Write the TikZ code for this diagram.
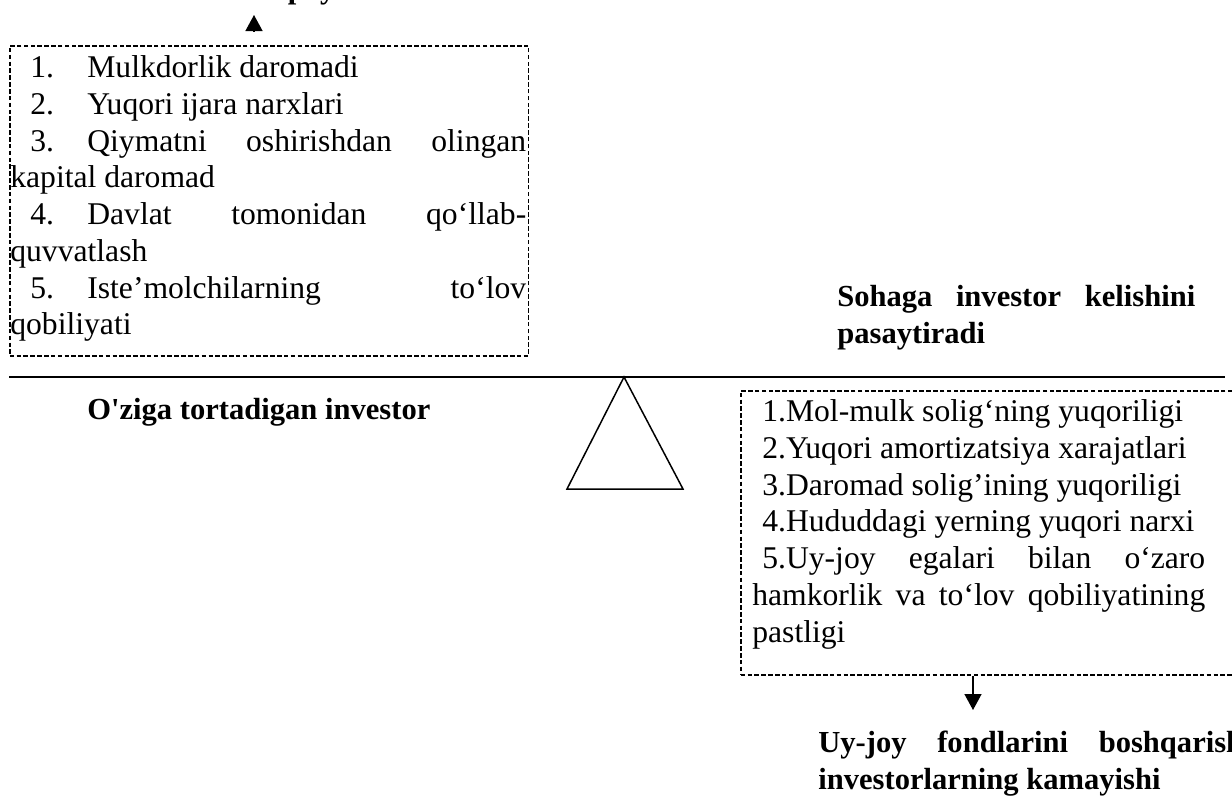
\documentclass[tikz,border=0pt]{standalone}
\usepackage{fontspec}
\setmainfont{Liberation Serif}[Ligatures=TeXOff]
\usetikzlibrary{arrows.meta}
\setlength{\parindent}{0pt}
\hyphenpenalty=10000
\newcommand{\litem}[1]{\hspace*{0.4cm}\makebox[1.14cm][l]{#1}}
\begin{document}
\begin{tikzpicture}[x=0.02cm,y=-0.02cm,
  dashbox/.style={draw,dash pattern=on 2.6pt off 1.3pt,line width=0.9pt,inner sep=0pt,anchor=north west},
  listtext/.style={inner sep=0pt,anchor=north west,align=justify,font=\fontsize{18}{20.9}\selectfont},
  heading/.style={inner sep=0pt,align=justify,font=\fontsize{17.4}{20.9}\selectfont\bfseries},
  arr/.style={-{Triangle[length=0.32cm,width=0.34cm]},line width=0.8pt}]
\useasboundingbox (0,0) rectangle (1232,796);
% left side
\node[heading,anchor=base west] (topnote) at (245,-2) {ko‘paytiradi};
\node[dashbox,minimum width=10.38cm,minimum height=6.2cm] (lbox) at (9,45) {};
\node[listtext,text width=10.32cm] (llist) at (10,55.5) {%
\litem{1.}Mulkdorlik daromadi\par
\litem{2.}Yuqori ijara narxlari\par
\litem{3.}Qiymatni oshirishdan olingan\linebreak kapital daromad\par
\litem{4.}Davlat tomonidan qo‘llab-\linebreak quvvatlash\par
\litem{5.}Iste’molchilarning to‘lov\linebreak qobiliyati};
\coordinate (up) at (254,15);
\draw[arr,shorten <=0.29cm] (lbox.north -| up) -- (up);
\node[heading,anchor=base west] (attract) at (87,419) {O'ziga tortadigan investor};
% beam and support
\coordinate (bl) at (9,377);
\coordinate (br) at (1225,377);
\coordinate (apex) at (624,377);
\draw[line width=1.1pt] (bl) -- (br);
\draw[line width=0.85pt,line join=miter] (apex) -- (567,489) -- (683,489) -- cycle;
% right side
\node[heading,anchor=north west,text width=7.16cm] (reduce) at (837,285)
  {Sohaga investor kelishini\linebreak pasaytiradi};
\node[dashbox,minimum width=10.3cm,minimum height=5.68cm] (rbox) at (740,390) {};
\node[listtext,text width=9.06cm] (rlist) at (752,399.5) {%
\hspace*{0.2cm}1.Mol-mulk solig‘ning yuqoriligi\par
\hspace*{0.2cm}2.Yuqori amortizatsiya xarajatlari\par
\hspace*{0.2cm}3.Daromad solig’ining yuqoriligi\par
\hspace*{0.2cm}4.Hududdagi yerning yuqori narxi\par
\hspace*{0.2cm}5.Uy-joy egalari bilan o‘zaro\linebreak hamkorlik va to‘lov qobiliyatining\linebreak pastligi};
\node[heading,anchor=north west,text width=8.5cm] (decline) at (818,731)
  {Uy-joy fondlarini boshqarish\linebreak investorlarning kamayishi};
\coordinate (dn) at (973,710);
\draw[arr] (rbox.south -| dn) -- (dn);
\end{tikzpicture}
\end{document}
